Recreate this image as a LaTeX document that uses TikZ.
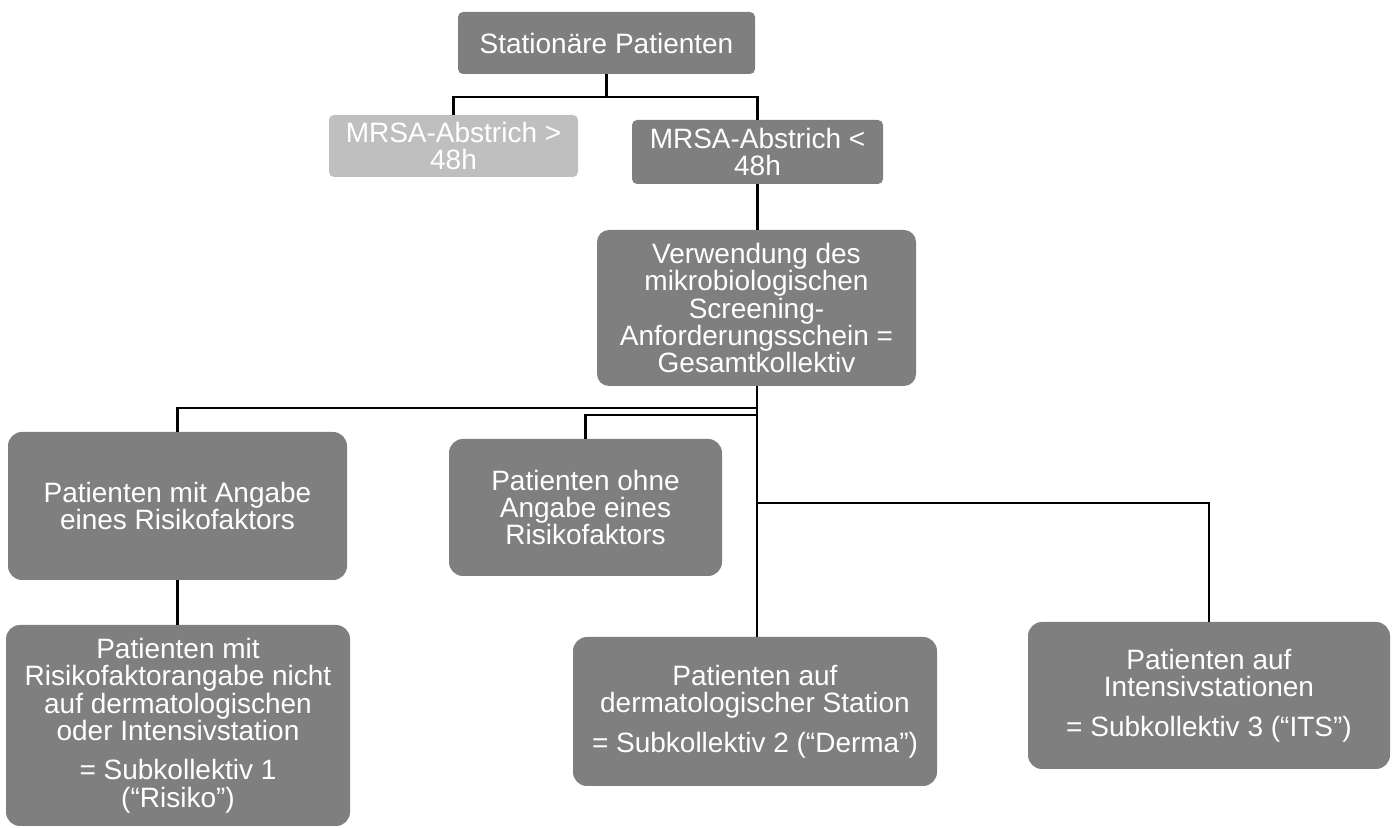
\documentclass[tikz,border=0pt]{standalone}
\usepackage{fontspec}
\setmainfont{Liberation Sans}
\definecolor{boxdark}{HTML}{7F7F7F}
\definecolor{boxlight}{HTML}{BFBFBF}
\begin{document}
\begin{tikzpicture}[x=0.5pt,y=-0.5pt,
  box/.style={fill=boxdark,text=white,align=center,inner sep=0pt,
    font=\fontsize{14}{13.7}\selectfont,rounded corners=6pt},
  lightbox/.style={box,fill=boxlight},
  conn/.style={draw=black,line width=1.3pt}]
\useasboundingbox (0,0) rectangle (1394,828);
\node[box,rounded corners=2.5pt,minimum width=148.5pt,minimum height=31pt] (n1) at (606.5,43) {Stationäre Patienten};
\node[lightbox,rounded corners=2.5pt,minimum width=124.5pt,minimum height=31pt] (n2) at (453.5,146) {MRSA-Abstrich >\\48h};
\node[box,rounded corners=2.5pt,minimum width=125.5pt,minimum height=32pt] (n3) at (757.5,152) {MRSA-Abstrich <\\48h};
\node[box,minimum width=159.5pt,minimum height=78pt] (n4) at (756.5,308) {Verwendung des\\mikrobiologischen\\Screening-\\Anforderungsschein =\\Gesamtkollektiv};
\node[box,rounded corners=7pt,minimum width=169.5pt,minimum height=74pt] (n5) at (177.5,506) {Patienten mit Angabe\\eines Risikofaktors};
\node[box,rounded corners=7pt,minimum width=136.5pt,minimum height=68.5pt] (n6) at (585.5,507.5) {Patienten ohne\\Angabe eines\\Risikofaktors};
\node[box,rounded corners=7pt,minimum width=172pt,minimum height=100.5pt] (n7) at (178,725.5) {Patienten mit\\Risikofaktorangabe nicht\\auf dermatologischen\\oder Intensivstation\\[6pt]= Subkollektiv 1\\(“Risiko”)};
\node[box,rounded corners=7pt,minimum width=182pt,minimum height=74.5pt] (n8) at (755,711.5) {Patienten auf\\dermatologischer Station\\[6pt]= Subkollektiv 2 (“Derma”)};
\node[box,rounded corners=7pt,minimum width=181pt,minimum height=73.5pt] (n9) at (1209,695.5) {Patienten auf\\Intensivstationen\\[6pt]= Subkollektiv 3 (“ITS”)};
\coordinate (j1) at (606.5,97);
\coordinate (b1) at (757,408);
\coordinate (b2) at (757,415);
\coordinate (b3) at (757,503);
\draw[conn] (n1.south) -- (j1);
\draw[conn] (n2.north) |- (j1) -| (n3.north);
\draw[conn] (n3.south) -- (n3.south |- n4.north);
\draw[conn] (n4.south -| b1) -- (b1 |- n8.north);
\draw[conn] (b1) -| (n5.north);
\draw[conn] (b2) -| (n6.north);
\draw[conn] (b3) -| (n9.north);
\draw[conn] (n5.south) -- (n5.south |- n7.north);
\end{tikzpicture}
\end{document}
